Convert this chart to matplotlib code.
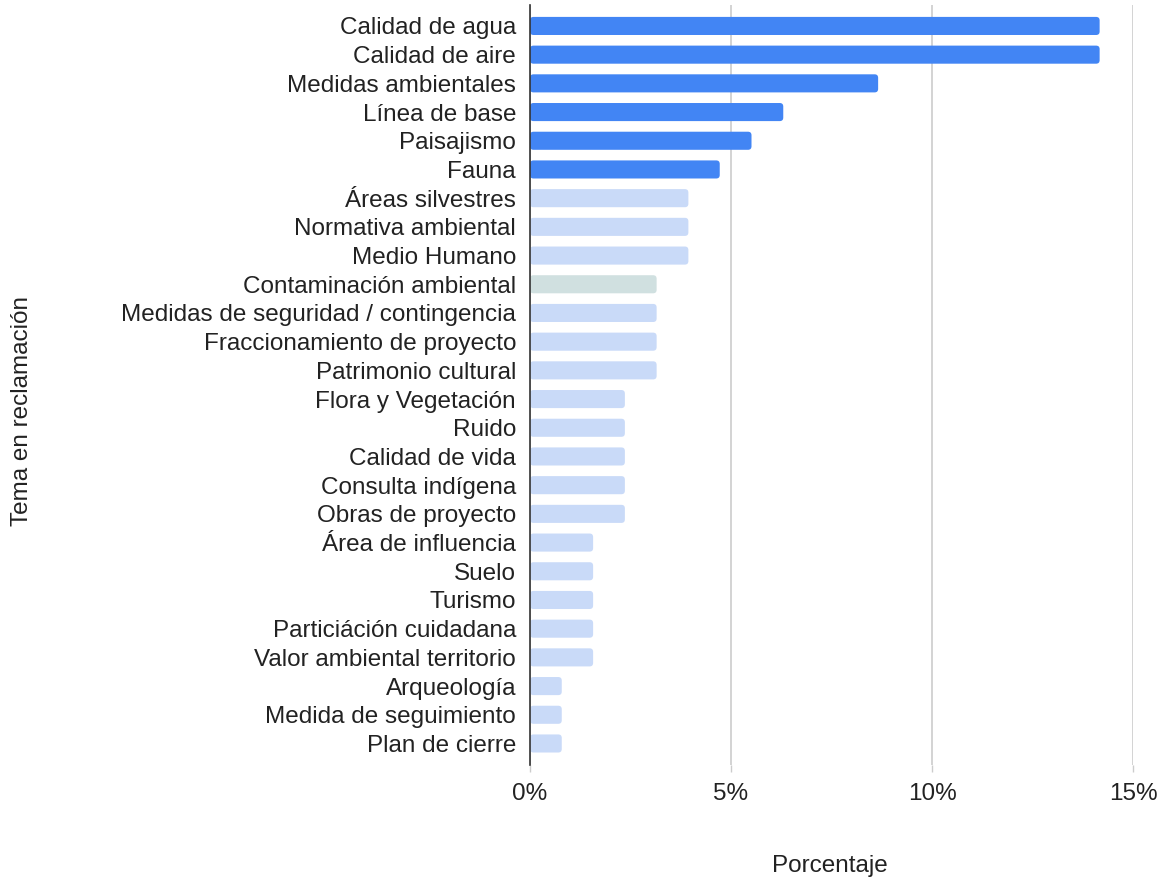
import matplotlib.pyplot as plt
from matplotlib.patches import FancyBboxPatch
from matplotlib.ticker import FuncFormatter

plt.rcParams['font.family'] = ['Liberation Sans', 'DejaVu Sans']

# Temas y porcentaje de reclamaciones (de arriba hacia abajo)
temas = [
    "Calidad de agua", "Calidad de aire", "Medidas ambientales", "Línea de base",
    "Paisajismo", "Fauna", "Áreas silvestres", "Normativa ambiental",
    "Medio Humano", "Contaminación ambiental", "Medidas de seguridad / contingencia",
    "Fraccionamiento de proyecto", "Patrimonio cultural", "Flora y Vegetación",
    "Ruido", "Calidad de vida", "Consulta indígena", "Obras de proyecto",
    "Área de influencia", "Suelo", "Turismo", "Particiáción cuidadana",
    "Valor ambiental territorio", "Arqueología", "Medida de seguimiento",
    "Plan de cierre",
]
porcentaje = [14.17, 14.17, 8.66, 6.30, 5.51, 4.72, 3.94, 3.94, 3.94, 3.15,
              3.15, 3.15, 3.15, 2.36, 2.36, 2.36, 2.36, 2.36, 1.57, 1.57,
              1.57, 1.57, 1.57, 0.79, 0.79, 0.79]
# 'd' = destacado, 'l' = claro, 'g' = gris verdoso
tono = ['d'] * 6 + ['l'] * 3 + ['g'] + ['l'] * 16

colores = {'d': '#4285f4', 'l': '#c9daf8', 'g': '#d0e0e0'}
fs = 17.5

fig = plt.figure(figsize=(11.65, 8.88), dpi=100)
ax = fig.add_axes([530 / 1165, 1 - 765 / 888, (1133 - 530) / 1165, (765 - 5) / 888])

y = list(range(len(temas)))
barras = ax.barh(y, porcentaje, height=0.63, color=[colores[t] for t in tono], zorder=3)

ax.set_xlim(0, 15)
ax.set_ylim(len(temas) - 0.25, -0.73)

# esquinas redondeadas
px_x = (1133 - 530) / 15.0
px_y = (765 - 5) / (len(temas) - 0.25 + 0.73)
for b in barras:
    x0, y0 = b.get_x(), b.get_y()
    w, h = b.get_width(), b.get_height()
    r = FancyBboxPatch((x0, y0), w, h,
                       boxstyle=f"round,pad=0,rounding_size={3.5 / px_x}",
                       mutation_aspect=px_x / px_y,
                       facecolor=b.get_facecolor(), edgecolor='none', zorder=3)
    ax.add_patch(r)
    b.remove()

ax.set_yticks(y)
ax.set_yticklabels(temas, fontsize=fs, color='#222222')
ax.set_xticks([0, 5, 10, 15])
ax.xaxis.set_major_formatter(FuncFormatter(lambda v, p: f"{v:.0f}%"))
ax.tick_params(axis='x', labelsize=fs, colors='#222222', length=5, width=1,
               color='#cccccc', pad=8)
ax.tick_params(axis='y', length=0, pad=10)

ax.grid(axis='x', color='#cccccc', linewidth=1.2, zorder=0)
for s in ['top', 'right', 'bottom']:
    ax.spines[s].set_visible(False)
ax.spines['left'].set_color('#333333')
ax.spines['left'].set_linewidth(1.2)
ax.spines['left'].set_zorder(4)

fig.text(830 / 1165, 1 - 866 / 888, "Porcentaje", ha='center', va='center',
         fontsize=fs, color='#222222')
fig.text(22 / 1165, 1 - 411 / 888, "Tema en reclamación", ha='center', va='center',
         rotation=90, fontsize=fs, color='#222222')

fig.savefig("out.png", dpi=100)
